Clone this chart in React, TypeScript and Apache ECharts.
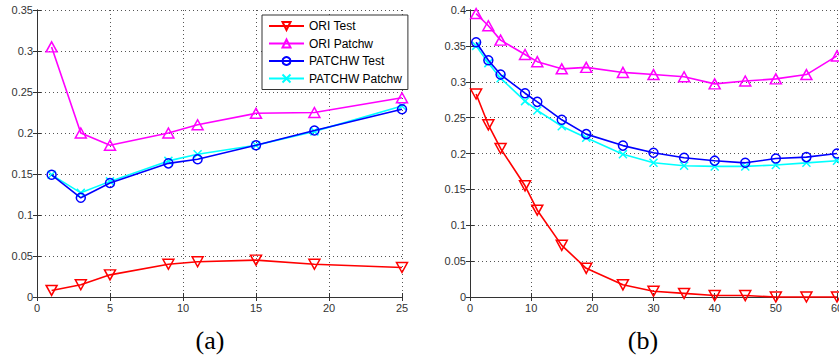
import React, { useEffect, useRef } from "react";
import * as echarts from "echarts";

// ---- Data ----
const xA = [1, 3, 5, 9, 11, 15, 19, 25];
const aOriTest = [0.008, 0.015, 0.027, 0.040, 0.043, 0.045, 0.040, 0.036];
const aOriPatchw = [0.305, 0.200, 0.185, 0.200, 0.210, 0.224, 0.225, 0.243];
const aPatchwTest = [0.149, 0.121, 0.139, 0.163, 0.168, 0.185, 0.203, 0.229];
const aPatchwPatchw = [0.149, 0.127, 0.141, 0.166, 0.174, 0.185, 0.202, 0.233];

const xB = [1, 3, 5, 9, 11, 15, 19, 25, 30, 35, 40, 45, 50, 55, 60];
const bOriTest = [0.283, 0.240, 0.207, 0.155, 0.121, 0.072, 0.040, 0.017, 0.008, 0.005, 0.002, 0.002, 0.0, 0.0, 0.0];
const bOriPatchw = [0.395, 0.378, 0.358, 0.338, 0.328, 0.318, 0.320, 0.313, 0.310, 0.307, 0.297, 0.301, 0.304, 0.310, 0.336];
const bPatchwTest = [0.355, 0.330, 0.310, 0.284, 0.272, 0.247, 0.227, 0.211, 0.201, 0.194, 0.190, 0.187, 0.193, 0.195, 0.200];
const bPatchwPatchw = [0.350, 0.326, 0.305, 0.273, 0.260, 0.238, 0.222, 0.199, 0.187, 0.183, 0.182, 0.182, 0.184, 0.187, 0.190];

const seriesNames = ["ORI Test", "ORI Patchw", "PATCHW Test", "PATCHW Patchw"];
const seriesColors = ["#ff0000", "#ff00ff", "#0000ff", "#00ffff"];
const captions = ["(a)", "(b)"];

const SYM_DOWN = "path://M0,0L10,0L5,9Z";
const SYM_UP = "path://M5,0L10,9L0,9Z";
const SYM_X = "path://M0,0L10,10M10,0L0,10";
const symbols = [SYM_DOWN, SYM_UP, "circle", SYM_X];
const symSizes = [[11, 10], [11, 10], 9, 8];

function pairs(xs: number[], ys: number[]) {
  return xs.map((x, i) => [x, ys[i]]);
}

export default function App() {
  const ref = useRef<HTMLDivElement>(null);
  useEffect(() => {
    document.body.style.margin = "0";
    if (!ref.current) return;
    const chart = echarts.init(ref.current, null, { renderer: "svg" });

    const labelStyle = { color: "#333", fontFamily: "Liberation Sans", fontSize: 11 };
    const gridLine = { show: true, lineStyle: { color: "#555", type: [1, 3] as any, width: 1 } };
    const axisLine = { show: true, lineStyle: { color: "#333", width: 1 } };
    const tick = { show: true, inside: true, length: 4, lineStyle: { color: "#333" } };

    const mkX = (gi: number, max: number, interval: number) => [
      {
        type: "value", gridIndex: gi, min: 0, max, interval, position: "bottom",
        axisLine, axisTick: tick, splitLine: gridLine,
        axisLabel: { ...labelStyle, margin: 5, showMaxLabel: true, hideOverlap: false },
      },
      {
        type: "value", gridIndex: gi, min: 0, max, interval, position: "top",
        axisLine, axisTick: tick, splitLine: { show: false }, axisLabel: { show: false },
      },
    ];
    const mkY = (gi: number, max: number) => [
      {
        type: "value", gridIndex: gi, min: 0, max, interval: 0.05, position: "left",
        axisLine, axisTick: tick, splitLine: gridLine,
        axisLabel: { ...labelStyle, margin: 4 },
      },
      {
        type: "value", gridIndex: gi, min: 0, max, interval: 0.05, position: "right",
        axisLine, axisTick: tick, splitLine: { show: false }, axisLabel: { show: false },
      },
    ];

    const dataA = [aOriTest, aOriPatchw, aPatchwTest, aPatchwPatchw];
    const dataB = [bOriTest, bOriPatchw, bPatchwTest, bPatchwPatchw];

    const mkSeries = (xs: number[], ys: number[], i: number, axisIdx: number) => ({
      type: "line",
      name: seriesNames[i],
      xAxisIndex: axisIdx,
      yAxisIndex: axisIdx,
      data: pairs(xs, ys),
      color: seriesColors[i],
      symbol: symbols[i],
      symbolSize: symSizes[i],
      showAllSymbol: true,
      lineStyle: { color: seriesColors[i], width: 1.6 },
      itemStyle: { color: "rgba(255,255,255,0)", borderColor: seriesColors[i], borderWidth: 1.5 },
      clip: false,
      z: 2 + (3 - i),
    });

    const series: any[] = [];
    for (let i = 0; i < 4; i++) series.push(mkSeries(xA, dataA[i], i, 0));
    for (let i = 0; i < 4; i++) series.push(mkSeries(xB, dataB[i], i, 2));

    chart.setOption({
      animation: false,
      backgroundColor: "#fff",
      grid: [
        { left: 37, top: 10, width: 365, height: 287, outerBoundsMode: "none", containLabel: false },
        { left: 470, top: 10, width: 367, height: 287, outerBoundsMode: "none", containLabel: false },
      ],
      xAxis: [...mkX(0, 25, 5), ...mkX(1, 60, 10)],
      yAxis: [...mkY(0, 0.35), ...mkY(1, 0.4)],
      legend: {
        orient: "vertical",
        left: 262,
        top: 15,
        width: 135,
        padding: [5, 6, 5, 6],
        itemWidth: 35,
        itemHeight: 10,
        itemGap: 5.5,
        backgroundColor: "#fff",
        borderColor: "#333",
        borderWidth: 1,
        borderRadius: 0,
        textStyle: { color: "#000", fontFamily: "Liberation Sans", fontSize: 12 },
        data: seriesNames,
        selectedMode: false,
      },
      graphic: [
        {
          type: "text", x: 210, y: 340,
          style: { text: captions[0], fontFamily: "Liberation Serif", fontSize: 26, fill: "#000", align: "center", verticalAlign: "middle" },
        },
        {
          type: "text", x: 643, y: 340,
          style: { text: captions[1], fontFamily: "Liberation Serif", fontSize: 26, fill: "#000", align: "center", verticalAlign: "middle" },
        },
      ],
      series,
    });
    return () => chart.dispose();
  }, []);
  return <div ref={ref} style={{ width: 839, height: 358 }} />;
}
